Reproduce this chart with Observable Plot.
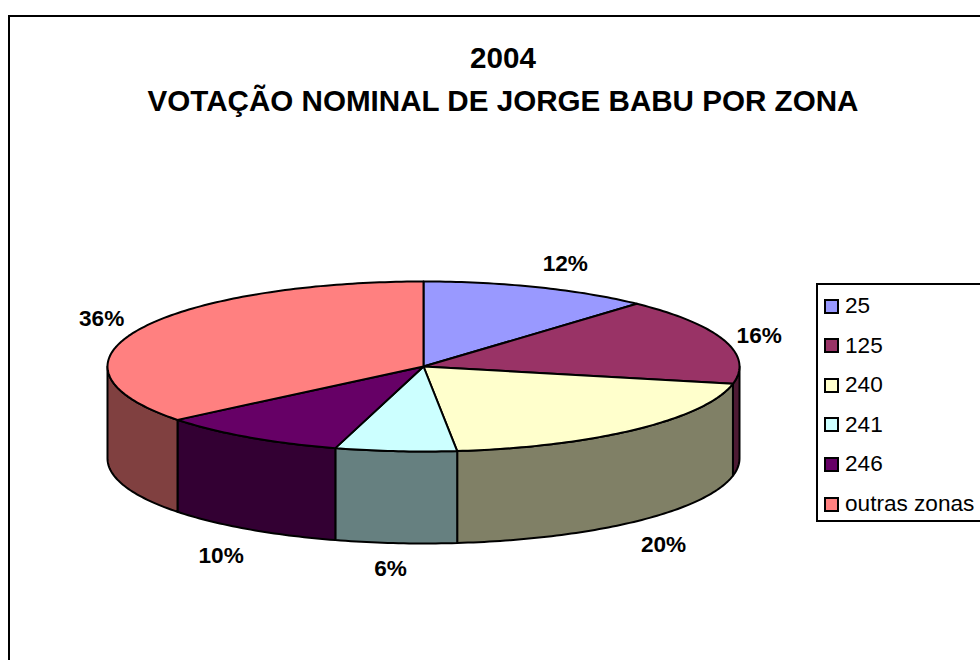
<!DOCTYPE html>
<html>
<head>
<meta charset="utf-8">
<script src="https://cdn.jsdelivr.net/npm/d3@7"></script>
<script src="https://cdn.jsdelivr.net/npm/@observablehq/plot@0.6"></script>
<style>
html,body{margin:0;padding:0;background:#fff;width:980px;height:660px;overflow:hidden}
#stage{position:relative;width:980px;height:660px;overflow:hidden;font-family:"Liberation Sans",Arial,sans-serif;color:#000}
#frame{position:absolute;left:8px;top:15px;width:980px;height:700px;border:2px solid #000;box-sizing:border-box}
#title{position:absolute;left:0;top:36px;width:1006px;text-align:center;font-weight:bold;font-size:29.6px;line-height:43px}
#chart{position:absolute;left:0;top:0}
#legend{position:absolute;left:816px;top:283px;width:180px;height:239px;border:2px solid #000;box-sizing:border-box;background:#fff}
.row{position:absolute;left:6px;display:flex;align-items:center;font-size:22.6px;height:26px;white-space:nowrap}
.sw{width:11px;height:11px;border:2px solid #000;margin-right:6px;flex:none}
</style>
</head>
<body>
<div id="stage">
  <div id="frame"></div>
  <div id="title">2004<br>VOTAÇÃO NOMINAL DE JORGE BABU POR ZONA</div>
  <div id="chart"></div>
  <div id="legend"></div>
</div>
<script>
const zones = ["25", "125", "240", "241", "246", "outras zonas"];
const shares = [11.8, 16.45, 20.05, 6.2, 9.7, 35.8];
const topColors = ["#9999FF", "#993366", "#FFFFCC", "#CCFFFF", "#660066", "#FF8080"];
const sideColors = ["#4C4C80", "#4D1A33", "#808066", "#668080", "#330033", "#804040"];
const labelShiftX = [0.032, -0.032, -0.013, -0.003, -0.003, 0.019];
const labelShiftY = [0, -0.035, -0.047, 0, -0.059, 0];

const depth = 1.082; // disc thickness, in units of the vertical radius
const rad = d => d * Math.PI / 180;
const px = a => Math.sin(rad(a));
const py = a => Math.cos(rad(a));
const arc = (a0, a1) => {
  const n = Math.max(2, Math.ceil(Math.abs(a1 - a0)));
  return d3.range(n + 1).map(i => a0 + (a1 - a0) * i / n);
};

let cum = 0;
const slices = shares.map((s, i) => {
  const a0 = cum * 3.6; cum += s; const a1 = cum * 3.6;
  return {zone: zones[i], share: s, a0, a1, mid: (a0 + a1) / 2, top: topColors[i], side: sideColors[i]};
});

const sidePts = [], topPts = [];
for (const s of slices) {
  const from = Math.max(s.a0, 90), to = Math.min(s.a1, 270);
  if (to > from) {
    const k = s.zone + " lado";
    for (const a of arc(from, to)) sidePts.push({k, x: px(a), y: py(a), c: s.side});
    for (const a of arc(to, from)) sidePts.push({k, x: px(a), y: py(a) - depth, c: s.side});
  }
  topPts.push({k: s.zone, x: 0, y: 0, c: s.top});
  for (const a of arc(s.a0, s.a1)) topPts.push({k: s.zone, x: px(a), y: py(a), c: s.top});
}

const labels = slices.map((s, i) => ({
  t: d3.format(".0f")(s.share) + "%",
  x: 1.15 * px(s.mid) + labelShiftX[i],
  y: 1.3 * py(s.mid) - (py(s.mid) < 0 ? depth : 0) + labelShiftY[i]
}));

const chart = Plot.plot({
  width: 980, height: 660,
  margin: 0,
  style: {background: "transparent", overflow: "visible"},
  x: {domain: [-423 / 316, 557 / 316], range: [0, 980], axis: null},
  y: {domain: [366 / 85, -294 / 85], range: [0, 660], axis: null},
  color: {type: "identity"},
  marks: [
    Plot.line(sidePts, {x: "x", y: "y", z: "k", fill: "c", stroke: "#000", strokeWidth: 2, curve: "linear-closed", strokeLinejoin: "round"}),
    Plot.line(topPts, {x: "x", y: "y", z: "k", fill: "c", stroke: "#000", strokeWidth: 2, curve: "linear-closed", strokeLinejoin: "round"}),
    Plot.text(labels, {x: "x", y: "y", text: "t", fontSize: 22.6, fontWeight: "bold", fontFamily: "Liberation Sans, Arial, sans-serif", fill: "#000"})
  ]
});
document.getElementById("chart").append(chart);

const legend = document.getElementById("legend");
zones.forEach((z, i) => {
  const row = document.createElement("div");
  row.className = "row";
  row.style.top = (8 + i * 39.6) + "px";
  const sw = document.createElement("span");
  sw.className = "sw"; sw.style.background = topColors[i];
  row.append(sw, document.createTextNode(z));
  legend.append(row);
});
</script>
</body>
</html>
